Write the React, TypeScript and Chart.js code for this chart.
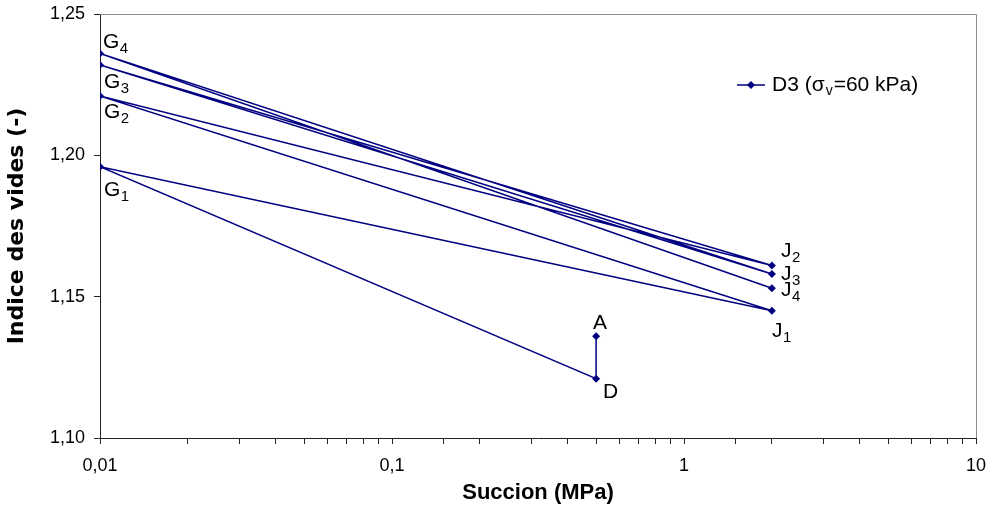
import React, { useEffect, useRef } from 'react';
import { Chart, registerables } from 'chart.js';

Chart.register(...registerables);

// ---- Data ----
const pointNames = ['A', 'D', 'G', 'J', 'G', 'J', 'G', 'J', 'G', 'J'];
const pointSubscripts = ['', '', '1', '1', '2', '2', '3', '3', '4', '4'];
const succionMPa = [0.5, 0.5, 0.01, 2, 0.01, 2, 0.01, 2, 0.01, 2];
const indiceVides = [1.136, 1.121, 1.196, 1.145, 1.221, 1.161, 1.232, 1.158, 1.236, 1.153];

const xMajorTicks = [0.01, 0.1, 1, 10];
const xTickLabels = ['0,01', '0,1', '1', '10'];
const yTicks = [1.1, 1.15, 1.2, 1.25];
const yTickLabels = ['1,10', '1,15', '1,20', '1,25'];

const seriesMain = 'D3 (σ';
const seriesSub = 'v';
const seriesTail = '=60 kPa)';
const xTitle = 'Succion (MPa)';
const yTitle = 'Indice des vides (-)';

// label placement (dx, dy of text baseline-left relative to the point)
const labelOffsets: [number, number][] = [
  [-3, -7], [7, 19], [4, 29], [0, 26], [4, 22], [9, -9], [4, 23], [9, 6], [3, -6], [9, 8],
];

const NAVY = '#000080';
const SANS = '"Liberation Sans", Arial, sans-serif';

const overlayPlugin = {
  id: 'overlay',
  beforeDatasetsDraw(chart: any) {
    const { ctx, chartArea } = chart;
    ctx.save();
    ctx.strokeStyle = '#8c8c8c';
    ctx.lineWidth = 1;
    ctx.beginPath();
    ctx.moveTo(chartArea.left, chartArea.top + 0.5);
    ctx.lineTo(chartArea.right + 0.5, chartArea.top + 0.5);
    ctx.lineTo(chartArea.right + 0.5, chartArea.bottom);
    ctx.stroke();
    ctx.restore();
  },
  afterDatasetsDraw(chart: any) {
    const { ctx } = chart;
    const meta = chart.getDatasetMeta(0);
    ctx.save();
    ctx.fillStyle = '#000';
    ctx.textBaseline = 'alphabetic';
    ctx.textAlign = 'left';
    meta.data.forEach((el: any, i: number) => {
      const [dx, dy] = labelOffsets[i];
      const x = el.x + dx;
      const y = el.y + dy;
      ctx.font = `21px ${SANS}`;
      ctx.fillText(pointNames[i], x, y);
      const w = ctx.measureText(pointNames[i]).width;
      if (pointSubscripts[i]) {
        ctx.font = `15px ${SANS}`;
        ctx.fillText(pointSubscripts[i], x + w + 0.5, y + 5);
      }
    });

    // legend
    const lx = 737, ly = 85;
    ctx.strokeStyle = NAVY;
    ctx.lineWidth = 1.5;
    ctx.beginPath();
    ctx.moveTo(lx, ly);
    ctx.lineTo(lx + 28, ly);
    ctx.stroke();
    ctx.fillStyle = NAVY;
    ctx.beginPath();
    const cx = lx + 14, r = 4;
    ctx.moveTo(cx, ly - r);
    ctx.lineTo(cx + r, ly);
    ctx.lineTo(cx, ly + r);
    ctx.lineTo(cx - r, ly);
    ctx.closePath();
    ctx.fill();
    ctx.fillStyle = '#000';
    let tx = 772;
    const ty = 91;
    ctx.font = `21px ${SANS}`;
    ctx.fillText(seriesMain, tx, ty);
    tx += ctx.measureText(seriesMain).width + 1;
    ctx.font = `14px ${SANS}`;
    ctx.fillText(seriesSub, tx, ty + 4);
    tx += ctx.measureText(seriesSub).width + 1;
    ctx.font = `21px ${SANS}`;
    ctx.fillText(seriesTail, tx, ty);
    ctx.restore();
  },
};

export default function App() {
  const ref = useRef<HTMLCanvasElement | null>(null);

  useEffect(() => {
    document.body.style.margin = '0';
    document.body.style.overflow = 'hidden';
    const canvas = ref.current;
    if (!canvas) return;
    const chart = new Chart(canvas, {
      type: 'scatter',
      data: {
        datasets: [
          {
            label: seriesMain + seriesSub + seriesTail,
            data: succionMPa.map((x, i) => ({ x, y: indiceVides[i] })),
            showLine: true,
            borderColor: NAVY,
            backgroundColor: NAVY,
            borderWidth: 1.5,
            pointStyle: 'rectRot',
            pointRadius: 4,
            pointHoverRadius: 4,
            pointBorderWidth: 0,
            tension: 0,
          },
        ],
      },
      options: {
        responsive: false,
        animation: false,
        events: [],
        layout: { padding: { top: 14, right: 13, bottom: 0, left: 0 } },
        plugins: {
          legend: { display: false },
          tooltip: { enabled: false },
        },
        scales: {
          x: {
            type: 'logarithmic',
            min: 0.01,
            max: 10,
            position: 'bottom',
            grid: {
              display: true,
              drawOnChartArea: false,
              drawTicks: true,
              tickLength: 6,
              color: '#222',
              lineWidth: 1,
            },
            border: { display: true, color: '#222', width: 1 },
            ticks: {
              autoSkip: false,
              maxRotation: 0,
              minRotation: 0,
              padding: 11,
              color: '#000',
              font: { family: SANS, size: 18 },
              callback: (v: any) => {
                const idx = xMajorTicks.findIndex((t) => Math.abs(t - Number(v)) < t * 1e-6);
                return idx >= 0 ? xTickLabels[idx] : '';
              },
            },
            title: {
              display: true,
              text: xTitle,
              color: '#000',
              font: { family: SANS, size: 22, weight: 'bold' },
              padding: { top: 0, bottom: 2 },
            },
            afterFit: (s: any) => {
              s.height = 70;
              s.paddingLeft = 0;
              s.paddingRight = 0;
            },
          },
          y: {
            type: 'linear',
            min: 1.1,
            max: 1.25,
            grid: {
              display: true,
              drawOnChartArea: false,
              drawTicks: true,
              tickLength: 6,
              color: '#222',
            },
            border: { display: true, color: '#222', width: 1 },
            afterBuildTicks: (s: any) => {
              s.ticks = yTicks.map((value) => ({ value }));
            },
            ticks: {
              padding: 9,
              color: '#000',
              font: { family: SANS, size: 18 },
              callback: (v: any) => {
                const idx = yTicks.findIndex((t) => Math.abs(t - Number(v)) < 1e-6);
                return idx >= 0 ? yTickLabels[idx] : '';
              },
            },
            title: {
              display: true,
              text: yTitle,
              color: '#000',
              font: { family: '"DejaVu Sans", sans-serif', size: 22, weight: 'bold' },
              padding: { top: 4, bottom: 0 },
            },
            afterFit: (s: any) => {
              s.width = 100;
              s.paddingTop = 0;
              s.paddingBottom = 0;
            },
          },
        },
      },
      plugins: [overlayPlugin],
    } as any);
    return () => chart.destroy();
  }, []);

  return (
    <div style={{ width: 989, height: 508, background: '#fff' }}>
      <canvas ref={ref} width={989} height={508} style={{ display: 'block' }} />
    </div>
  );
}
